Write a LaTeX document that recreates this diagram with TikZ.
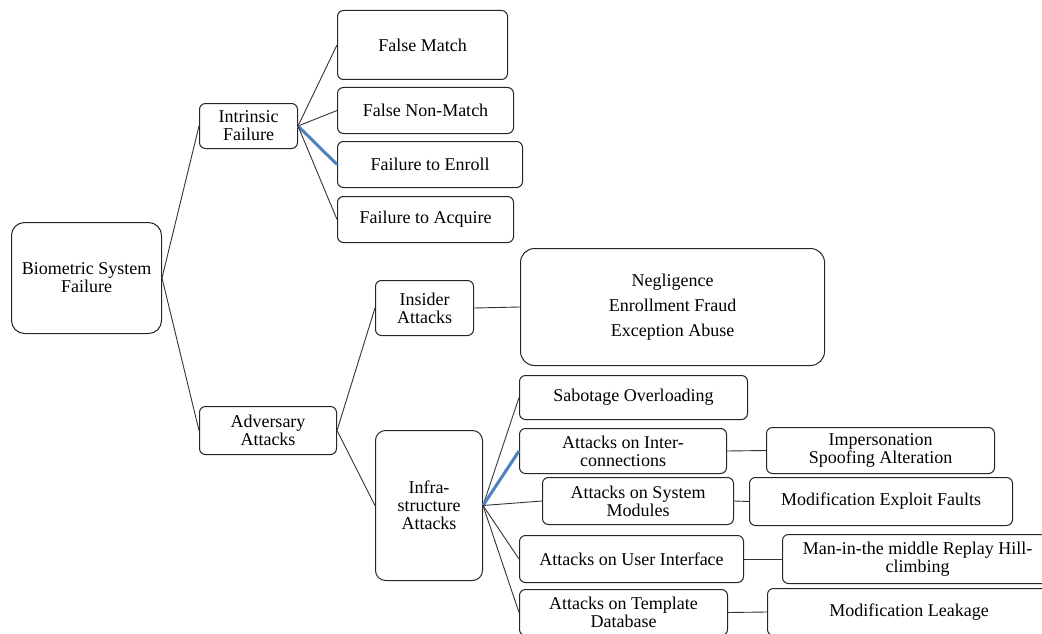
\documentclass[tikz,border=0pt]{standalone}
\usepackage{fontspec}
\setmainfont{Liberation Serif}
\definecolor{hotblue}{RGB}{79,129,189}

\begin{document}
\begin{tikzpicture}[x = 1pt, y = -1pt,
	box/.style = {draw = black!85, line width = 1pt, rounded corners = 6pt, align = center,
		inner sep = 0pt, anchor = north west, font = \fontsize{18}{18}\selectfont},
	link/.style = {draw = black!80, line width = 0.9pt},
	hot/.style = {draw = hotblue, line width = 3pt}]

	\useasboundingbox (0, 0) rectangle (1042, 634);
	\clip (0, 0) rectangle (1042, 634);

	% root and first level
	\node [box, rounded corners = 13pt, minimum width = 150pt, minimum height = 111pt] (bsf) at (11, 222) {Biometric System\\Failure};
	\node [box, minimum width = 98pt, minimum height = 45pt] (intr) at (199, 103) {Intrinsic\\Failure};
	\node [box, minimum width = 137pt, minimum height = 48pt] (adv) at (199, 406) {Adversary\\Attacks};

	% intrinsic failures
	\node [box, minimum width = 170pt, minimum height = 69pt] (fm) at (337, 10) {False Match};
	\node [box, minimum width = 176pt, minimum height = 46pt] (fnm) at (337, 87) {False Non-Match};
	\node [box, minimum width = 185pt, minimum height = 46pt] (fte) at (337, 141) {Failure to Enroll};
	\node [box, minimum width = 176pt, minimum height = 46pt] (fta) at (337, 196) {Failure to Acquire};

	% adversary attacks
	\node [box, minimum width = 98pt, minimum height = 55pt] (ins) at (375, 280) {Insider\\Attacks};
	\node [box, rounded corners = 14pt, minimum width = 304pt, minimum height = 117pt,
		font = \fontsize{18}{25}\selectfont] (insl) at (520, 248) {Negligence\\Enrollment Fraud\\Exception Abuse};
	\node [box, rounded corners = 10pt, minimum width = 107pt, minimum height = 150pt] (infra) at (375, 430) {Infra-\\structure\\Attacks};

	% infrastructure attacks
	\node [box, minimum width = 228pt, minimum height = 44pt] (sab) at (519, 375) {Sabotage Overloading};
	\node [box, minimum width = 207pt, minimum height = 45pt] (inter) at (519, 428) {Attacks on Inter-\\connections};
	\node [box, minimum width = 228pt, minimum height = 46pt] (interl) at (766, 427) {Impersonation\\Spoofing Alteration};
	\node [box, minimum width = 191pt, minimum height = 47pt] (mods) at (542, 477) {Attacks on System\\Modules};
	\node [box, minimum width = 263pt, minimum height = 48pt] (modsl) at (749, 477) {Modification Exploit Faults};
	\node [box, minimum width = 224pt, minimum height = 47pt] (ui) at (519, 535) {Attacks on User Interface};
	\node [box, minimum width = 270pt, minimum height = 49pt] (uil) at (782, 534) {Man-in-the middle Replay Hill-\\climbing};
	\node [box, minimum width = 208pt, minimum height = 46pt] (tdb) at (519, 589) {Attacks on Template\\Database};
	\node [box, minimum width = 283pt, minimum height = 47pt] (tdbl) at (767, 588) {Modification Leakage};

	% connectors
	\draw [link] (bsf.east) -- (intr.west);
	\draw [link] (bsf.east) -- (adv.west);

	\draw [link] (intr.east) -- (fm.west);
	\draw [link] (intr.east) -- (fnm.west);
	\draw [hot] (intr.east) -- (fte.west);
	\draw [link] (intr.east) -- (fta.west);

	\draw [link] (adv.east) -- (ins.west);
	\draw [link] (adv.east) -- (infra.west);
	\draw [link] (ins.east) -- (insl.west);

	\draw [link] (infra.east) -- (sab.west);
	\draw [hot] (infra.east) -- (inter.west);
	\draw [link] (infra.east) -- (mods.west);
	\draw [link] (infra.east) -- (ui.west);
	\draw [link] (infra.east) -- (tdb.west);

	\draw [link] (inter.east) -- (interl.west);
	\draw [link] (mods.east) -- (modsl.west);
	\draw [link] (ui.east) -- (uil.west);
	\draw [link] (tdb.east) -- (tdbl.west);

\end{tikzpicture}
\end{document}
